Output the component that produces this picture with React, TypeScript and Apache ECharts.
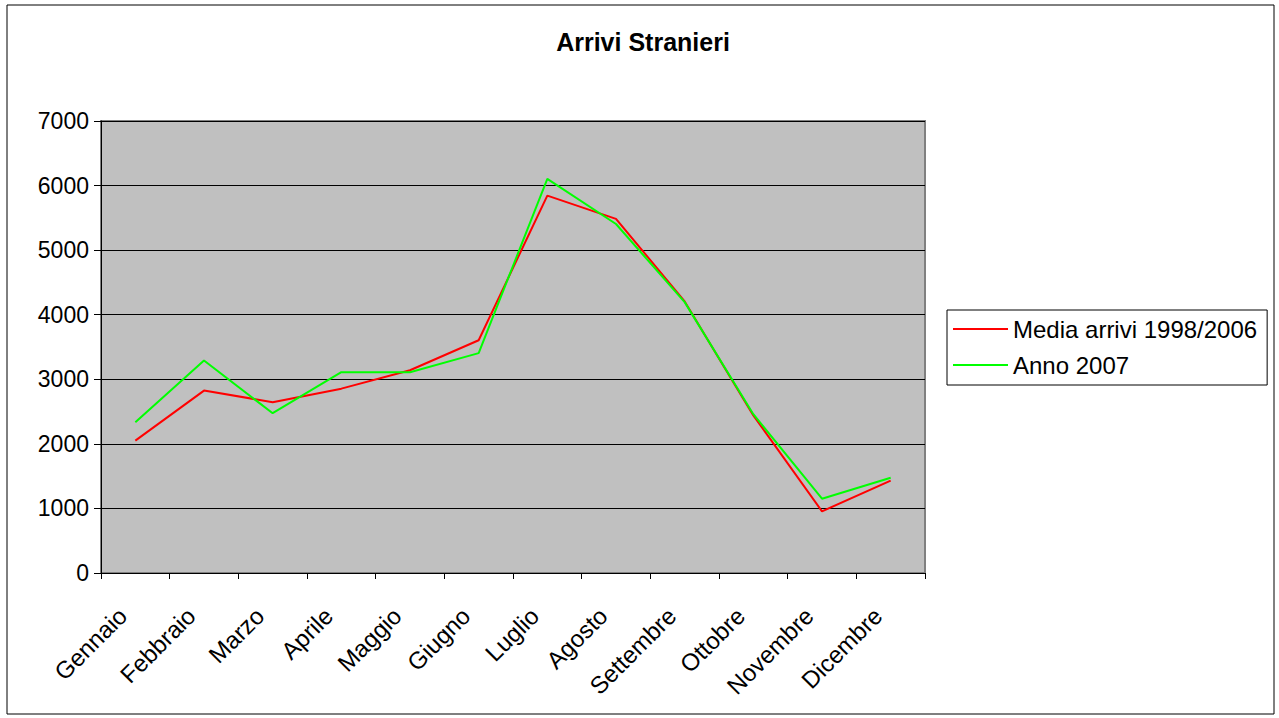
import React, { useEffect, useRef } from "react";
import * as echarts from "echarts";

const months = [
  "Gennaio", "Febbraio", "Marzo", "Aprile", "Maggio", "Giugno",
  "Luglio", "Agosto", "Settembre", "Ottobre", "Novembre", "Dicembre",
];
const mediaArrivi = [2050, 2825, 2645, 2855, 3140, 3605, 5845, 5485, 4205, 2440, 955, 1430];
const anno2007 = [2335, 3290, 2475, 3110, 3110, 3405, 6105, 5405, 4195, 2460, 1150, 1475];
const seriesNames = ["Media arrivi 1998/2006", "Anno 2007"];
const yTicks = { min: 0, max: 7000, interval: 1000 };

const FONT = 'Arial, "Liberation Sans", sans-serif';

export default function App() {
  const ref = useRef<HTMLDivElement>(null);
  useEffect(() => {
    if (!ref.current) return;
    const chart = echarts.init(ref.current, undefined, { renderer: "svg" });
    chart.setOption({
      animation: false,
      backgroundColor: "#ffffff",
      textStyle: { fontFamily: FONT },
      title: {
        text: "Arrivi Stranieri",
        left: 638,
        textAlign: "center",
        top: 24,
        textStyle: { fontFamily: FONT, fontSize: 25, fontWeight: "bold", color: "#000" },
      },
      graphic: [
        {
          type: "rect",
          shape: { x: 7, y: 5, width: 1267, height: 709 },
          style: { fill: "none", stroke: "#000", lineWidth: 1 },
          z: -1,
        },
      ],
      legend: {
        orient: "vertical",
        left: 947,
        top: 310,
        padding: [7, 10, 8, 6],
        itemGap: 12,
        itemWidth: 55,
        itemHeight: 2,
        icon: "rect",
        borderColor: "#000",
        borderWidth: 1,
        backgroundColor: "#fff",
        textStyle: { fontFamily: FONT, fontSize: 24, color: "#000" },
        data: seriesNames,
      },
      grid: {
        left: 101,
        top: 121,
        right: 354,
        bottom: 145,
        show: true,
        backgroundColor: "#c0c0c0",
        borderColor: "#808080",
        borderWidth: 2,
      },
      xAxis: {
        type: "category",
        data: months,
        boundaryGap: true,
        axisLine: { show: true, lineStyle: { color: "#000", width: 1 } },
        axisTick: { show: true, length: 6, lineStyle: { color: "#000" } },
        axisLabel: {
          rotate: 45,
          margin: 26,
          padding: [0, 18, 0, 0],
          fontFamily: FONT,
          fontSize: 24,
          color: "#000",
          interval: 0,
        },
        splitLine: { show: false },
      },
      yAxis: {
        type: "value",
        min: yTicks.min,
        max: yTicks.max,
        interval: yTicks.interval,
        axisLine: { show: true, lineStyle: { color: "#000", width: 1 } },
        axisTick: { show: true, length: 7, lineStyle: { color: "#000" } },
        axisLabel: {
          margin: 12,
          fontFamily: FONT,
          fontSize: 23,
          color: "#000",
          formatter: (v: number) => String(v),
        },
        splitLine: { show: true, lineStyle: { color: "#000", width: 1 } },
      },
      series: [
        {
          name: seriesNames[0],
          type: "line",
          data: mediaArrivi,
          symbol: "none",
          lineStyle: { color: "#ff0000", width: 2 },
          itemStyle: { color: "#ff0000" },
        },
        {
          name: seriesNames[1],
          type: "line",
          data: anno2007,
          symbol: "none",
          lineStyle: { color: "#00ff00", width: 2 },
          itemStyle: { color: "#00ff00" },
        },
      ],
    });
    return () => chart.dispose();
  }, []);
  return (
    <div
      ref={ref}
      style={{ position: "fixed", left: 0, top: 0, width: 1279, height: 718 }}
    />
  );
}
